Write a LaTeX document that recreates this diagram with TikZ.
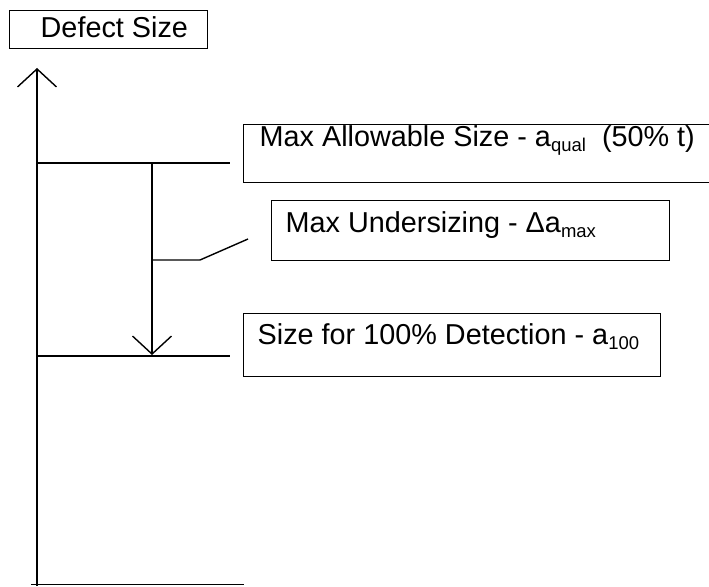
\documentclass[tikz,border=0pt]{standalone}
\usepackage{fontspec}
\setmainfont{Liberation Sans}
\usetikzlibrary{arrows.meta}
\newcommand\sbx[1]{\raisebox{-4.5pt}{\fontsize{18.5}{18.5}\selectfont #1}}
\tikzset{
  ln/.style={line width=1.4pt, line cap=butt},
  bx/.style={draw, line width=1.4pt, anchor=north west, inner ysep=0pt, font=\fontsize{28.8}{34}\selectfont},
  barb/.style={-{Straight Barb[length=18pt, width=39pt, line width=1.4pt]}}
}
\begin{document}
\begin{tikzpicture}[x=1pt, y=-1pt]
\useasboundingbox (0,0) rectangle (709,586);
\clip (0,0) rectangle (709,586);
\fill[white] (0,0) rectangle (709,586);
% title box
\node (title) [bx, inner xsep=31pt, text height=27pt, text depth=11pt] at (9,10) {\makebox[136pt][l]{Defect Size}};
% axis
\coordinate (axbot) at (37,586);
\coordinate (axtop) at (37,68);
\draw[ln, barb] (axbot) -- (axtop);
\coordinate (bl) at (31,584.5);
\coordinate (br) at (244,584.5);
\draw[ln] (bl) -- (br);
% level lines
\coordinate (l1a) at (37,163);
\coordinate (l1b) at (230,163);
\coordinate (l2a) at (37,356);
\coordinate (l2b) at (230,356);
\draw[ln] (l1a) -- (l1b);
\draw[ln] (l2a) -- (l2b);
% undersizing arrow
\coordinate (ua) at (152,163);
\coordinate (ub) at (152,355);
\draw[ln, barb] (ua) -- (ub);
% leader
\coordinate (lda) at (152,260);
\coordinate (ldb) at (200,260);
\coordinate (ldc) at (248,239);
\draw[ln] (lda) -- (ldb) -- (ldc);
% boxes
\node (b1) [bx, inner xsep=16pt, text height=22pt, text depth=36pt] at (243,124)
  {\makebox[437pt][l]{Max Allowable Size - a\sbx{qual}\ \ (50\% t)}};
\node (b2) [bx, inner xsep=14pt, text height=32pt, text depth=28pt] at (271,200)
  {\makebox[370pt][l]{Max Undersizing - Δa\sbx{max}}};
\node (b3) [bx, inner xsep=14pt, text height=31pt, text depth=32pt] at (243,313)
  {\makebox[389pt][l]{Size for 100\% Detection - a\sbx{100}}};
\end{tikzpicture}
\end{document}
